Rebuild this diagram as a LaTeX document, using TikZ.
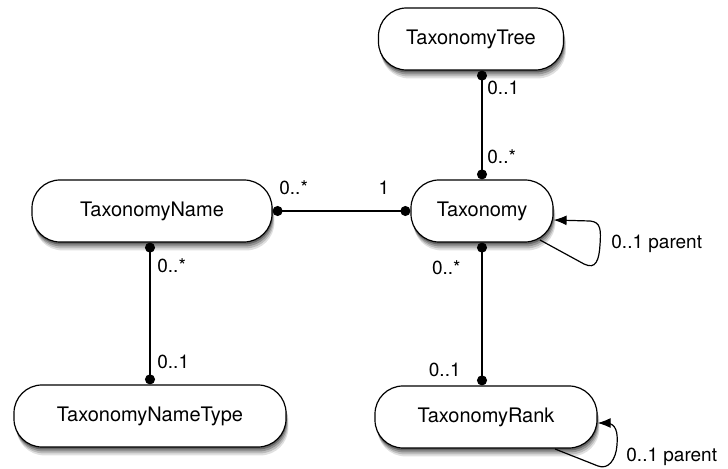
\documentclass[tikz,border=0pt]{standalone}
\usepackage{fontspec}
\setmainfont{TeX Gyre Heros}
\usetikzlibrary{arrows.meta,calc,shadows}
\tikzset{
  softshadow/.style={
    drop shadow={shadow xshift=1.2pt, shadow yshift=-4.2pt, opacity=0.12, fill=black},
    drop shadow={shadow xshift=0.9pt, shadow yshift=-3.2pt, opacity=0.16, fill=black},
    drop shadow={shadow xshift=0.6pt, shadow yshift=-2.2pt, opacity=0.22, fill=black},
    drop shadow={shadow xshift=0.3pt, shadow yshift=-1.2pt, opacity=0.3, fill=black}},
  entity/.style={draw=black, line width=0.6pt, fill=white, rounded corners=14pt,
    minimum height=31pt, inner sep=0pt, font=\fontsize{10}{12}\selectfont, softshadow},
  assoc/.style={line width=0.6pt, {Circle[length=5pt]}-{Circle[length=5pt]}},
  selfref/.style={line width=0.6pt, -{Latex[length=6.5pt,width=5pt]}},
  mult/.style={font=\fontsize{9.5}{11}\selectfont, inner sep=0pt}
}
\begin{document}
\begin{tikzpicture}[x=0.5pt,y=-0.5pt]
\useasboundingbox (0,0) rectangle (728,469);
% entities
\node[entity, minimum width=92.5pt] (tree) at (471,39) {TaxonomyTree};
\node[entity, minimum width=71pt]   (tax)  at (482,211) {Taxonomy};
\node[entity, minimum width=120pt]  (name) at (152,211) {TaxonomyName};
\node[entity, minimum width=136pt]  (ntype) at (150,416) {TaxonomyNameType};
\node[entity, minimum width=111pt]  (rank) at (486,417) {TaxonomyRank};
% associations
\draw[assoc] (tax.north |- tree.south) -- (tax.north);
\draw[assoc] (name.east) -- (tax.west);
\draw[assoc] (tax.south) -- (tax.south |- rank.north);
\draw[assoc] (ntype.north |- name.south) -- (ntype.north);
% self references
\coordinate (taxloopA) at (540,240);
\coordinate (rankloopA) at (555,449);
\draw[selfref]
  (taxloopA) -- (584,264) .. controls (596,270) and (599,260) .. (600,245)
  .. controls (601,230) and (601,222) .. (590,221) -- (tax.east |- 0,220);
\draw[selfref]
  (rankloopA) -- (598,466) .. controls (608,470) and (616,460) .. (617,445)
  .. controls (618,432) and (616,424) .. (607,423) -- (rank.east |- 0,423);
% multiplicities
\node[mult, anchor=west] (m1) at (487,88) {0..1};
\node[mult, anchor=west] (m2) at (487,157) {0..*};
\node[mult, anchor=west] (m3) at (279,188) {0..*};
\node[mult] (m4) at (384,188) {1};
\node[mult, anchor=east] (m5) at (461,268) {0..*};
\node[mult, anchor=east] (m6) at (461,370) {0..1};
\node[mult, anchor=west] (m7) at (157,266) {0..*};
\node[mult, anchor=west] (m8) at (157,362) {0..1};
\node[mult, anchor=west] (p1) at (611,244) {0..1 parent};
\node[mult, anchor=west] (p2) at (626,457) {0..1 parent};
\end{tikzpicture}
\end{document}
